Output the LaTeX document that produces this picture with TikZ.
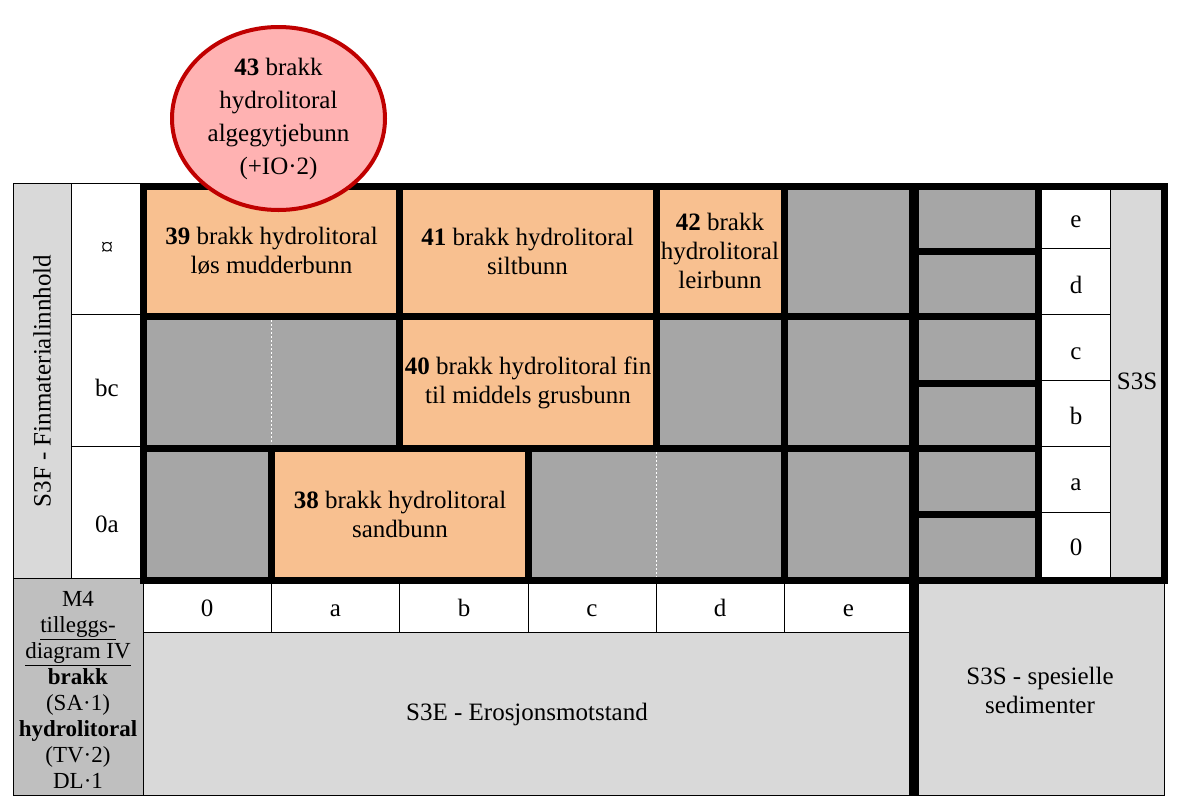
\documentclass[tikz,border=0pt]{standalone}
\usepackage{fontspec}
\setmainfont{Liberation Serif}
\usetikzlibrary{shapes.geometric}
\definecolor{cOr}{RGB}{248,192,144}
\definecolor{cGr}{RGB}{166,166,166}
\definecolor{cLt}{RGB}{217,217,217}
\definecolor{cMd}{RGB}{191,191,191}
\definecolor{cPk}{RGB}{255,178,178}
\definecolor{cRd}{RGB}{192,0,0}
\begin{document}
\begin{tikzpicture}[x=1pt,y=-1pt,
  txt/.style={font=\fontsize{25}{29}\selectfont, align=center, inner sep=0pt},
  lbl/.style={font=\fontsize{25}{29}\selectfont, inner sep=0pt, anchor=base},
  thinln/.style={line width=1pt, black},
  thk/.style={line width=7pt, black, line cap=rect},
  wdash/.style={line width=1pt, white, dash pattern=on 2pt off 2pt},
]
\useasboundingbox (0,0) rectangle (1185,809);
\fill[white] (0,0) rectangle (1185,809);
% ---------- fills ----------
\fill[cLt] (13,183) rectangle (71,578);
\fill[white] (71,183) rectangle (143,578);
% row 1
\fill[cOr] (143,186) rectangle (399.5,316.5);
\fill[cOr] (399.5,186) rectangle (656,316.5);
\fill[cOr] (656,186) rectangle (784.5,316.5);
\fill[cGr] (784.5,186) rectangle (912.5,316.5);
% row 2
\fill[cGr] (143,316.5) rectangle (399.5,448);
\fill[cOr] (399.5,316.5) rectangle (656,448);
\fill[cGr] (656,316.5) rectangle (912.5,448);
% row 3
\fill[cGr] (143,448) rectangle (271.5,580);
\fill[cOr] (271.5,448) rectangle (528,580);
\fill[cGr] (528,448) rectangle (912.5,580);
% right part
\fill[cGr] (912.5,186) rectangle (1038.5,580);
\fill[white] (1038.5,186) rectangle (1110,580);
\fill[cLt] (1110,186) rectangle (1164.5,580);
% bottom
\fill[cMd] (13,578) rectangle (143,795);
\fill[white] (143,580) rectangle (912.5,632);
\fill[cLt] (143,632) rectangle (912.5,795);
\fill[cLt] (912.5,580) rectangle (1164,795);
% ---------- thin lines ----------
\draw[thinln] (13,795) -- (13,183) -- (143,183);
\draw[thinln] (71,183) -- (71,578);
\draw[thinln] (71,314) -- (143,314);
\draw[thinln] (71,446) -- (143,446);
\draw[thinln] (13,578) -- (143,578);
\draw[thinln] (143,578) -- (143,795);
\draw[thinln] (13,795) -- (1164,795) -- (1164,580);
\draw[thinln] (143,632) -- (912.5,632);
\foreach \x in {271.5,399.5,528,656,784.5} \draw[thinln] (\x,583) -- (\x,632);
\foreach \y in {248,314,380,446,512} \draw[thinln] (1042,\y) -- (1110,\y);
\draw[thinln] (1110,186) -- (1110,577);
% white dashed separators
\draw[wdash] (271.5,320) -- (271.5,444);
\draw[wdash] (656,452) -- (656,577);
% ---------- thick lines ----------
\draw[thk] (143.5,186) rectangle (1164.5,580);
\draw[thk] (143.5,316.5) -- (1038.5,316.5);
\draw[thk] (143.5,448) -- (1038.5,448);
\foreach \y in {251,383.5,514} \draw[thk] (912.5,\y) -- (1038.5,\y);
\draw[thk] (1038.5,186) -- (1038.5,580);
\foreach \x in {399.5,656,784.5} \draw[thk] (\x,186) -- (\x,448);
\foreach \x in {271.5,528,784.5} \draw[thk] (\x,448) -- (\x,580);
\draw[black, line width=10pt] (913.5,183) -- (913.5,795);
% ---------- texts ----------
\node[txt, rotate=90] (s3f) at (42,381) {S3F - Finmaterialinnhold};
\node[txt] (rA) at (107,249) {¤};
\node[lbl] (rB) at (107,396) {bc};
\node[lbl] (rC) at (107,532) {0a};
\node[txt] (c39) at (271.5,251) {\textbf{39} brakk hydrolitoral\\løs mudderbunn};
\node[txt] (c41) at (527.5,251) {\textbf{41} brakk hydrolitoral\\siltbunn};
\node[txt] (c42) at (720,251) {\textbf{42} brakk\\hydrolitoral\\leirbunn};
\node[txt] (c40) at (528,383) {\textbf{40} brakk hydrolitoral fin\\til middels grusbunn};
\node[txt] (c38) at (400,514) {\textbf{38} brakk hydrolitoral\\sandbunn};
\foreach \t/\x in {0/207,a/335.5,b/464,c/592,d/720,e/848.5}
  \node[lbl] (b\t) at (\x,616.5) {\t};
\foreach \t/\y in {e/227,d/293,c/359,b/424,a/490,0/555}
  \node[lbl] (r\t) at (1076,\y) {\t};
\node[txt] (s3sr) at (1137,381) {S3S};
\node[txt] (s3e) at (527,714) {S3E - Erosjonsmotstand};
\node[txt] (s3s) at (1040,690) {S3S - spesielle\\sedimenter};
\node[font=\fontsize{23}{26}\selectfont, align=center, inner sep=0pt] (m4) at (78,690)
  {M4\\\underline{tilleggs-}\\\underline{diagram IV}\\\textbf{brakk}\\(SA·1)\\\textbf{hydrolitoral}\\(TV·2)\\DL·1};
% ---------- ellipse ----------
\node[ellipse, draw=cRd, line width=4pt, fill=cPk, minimum width=213pt, minimum height=183pt, inner sep=0pt,
  font=\fontsize{25}{33}\selectfont, align=center] (c43) at (278.5,118.5)
  {\textbf{43} brakk\\hydrolitoral\\algegytjebunn\\(+IO·2)};
\end{tikzpicture}
\end{document}
